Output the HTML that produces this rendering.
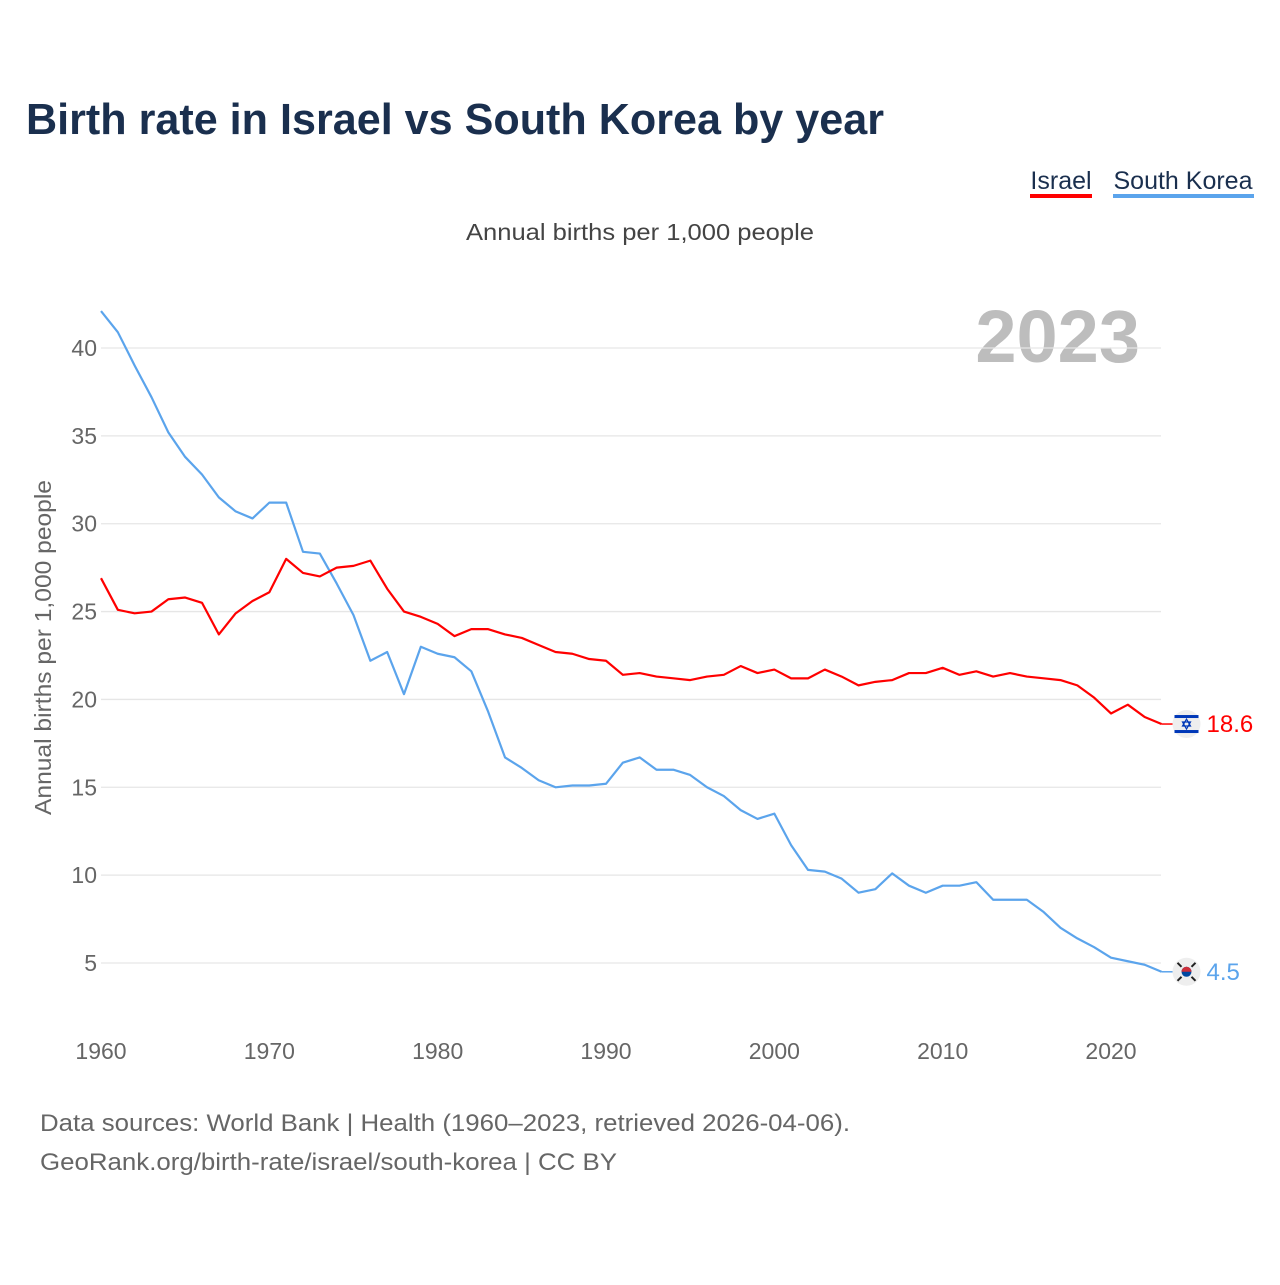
<!DOCTYPE html>
<html><head><meta charset="utf-8"><style>
body{margin:0;background:#fff;font-family:"Liberation Sans",sans-serif}
svg text{font-family:"Liberation Sans",sans-serif}
</style></head><body>
<svg width="1280" height="1280" viewBox="0 0 1280 1280">
<text x="26" y="134" font-size="44" font-weight="bold" fill="#1a2f4e" textLength="858" lengthAdjust="spacingAndGlyphs">Birth rate in Israel vs South Korea by year</text>
<g>
<g><text x="1061" y="189" font-size="25" fill="#1a2f4e" text-anchor="middle">Israel</text><rect x="1030" y="194" width="62" height="4" fill="#ff0000"/></g>
<g><text x="1183" y="189" font-size="25" fill="#1a2f4e" text-anchor="middle">South Korea</text><rect x="1113" y="194" width="141" height="4" fill="#5ba4ec"/></g>
</g>
<text x="466" y="240" font-size="23" fill="#444" textLength="348" lengthAdjust="spacingAndGlyphs">Annual births per 1,000 people</text>
<text x="1140" y="362" font-size="74" font-weight="bold" fill="#bdbdbd" text-anchor="end">2023</text>
<text transform="translate(51,815) rotate(-90)" font-size="23" fill="#666" textLength="335" lengthAdjust="spacingAndGlyphs">Annual births per 1,000 people</text>
<g id="grid"></g><g id="yt"></g><g id="xt"></g><g id="lines"></g><g id="ends"></g>
<text x="40" y="1131" font-size="24" fill="#666" textLength="810" lengthAdjust="spacingAndGlyphs">Data sources: World Bank | Health (1960–2023, retrieved 2026-04-06).</text>
<text x="40" y="1170" font-size="24" fill="#666" textLength="577" lengthAdjust="spacingAndGlyphs">GeoRank.org/birth-rate/israel/south-korea | CC BY</text>
</svg>
<script>
const years=[];for(let y=1960;y<=2023;y++)years.push(y);
const israel=[26.9,25.1,24.9,25.0,25.7,25.8,25.5,23.7,24.9,25.6,26.1,28.0,27.2,27.0,27.5,27.6,27.9,26.3,25.0,24.7,24.3,23.6,24.0,24.0,23.7,23.5,23.1,22.7,22.6,22.3,22.2,21.4,21.5,21.3,21.2,21.1,21.3,21.4,21.9,21.5,21.7,21.2,21.2,21.7,21.3,20.8,21.0,21.1,21.5,21.5,21.8,21.4,21.6,21.3,21.5,21.3,21.2,21.1,20.8,20.1,19.2,19.7,19.0,18.6];
const korea=[42.1,40.9,39.0,37.2,35.2,33.8,32.8,31.5,30.7,30.3,31.2,31.2,28.4,28.3,26.6,24.8,22.2,22.7,20.3,23.0,22.6,22.4,21.6,19.3,16.7,16.1,15.4,15.0,15.1,15.1,15.2,16.4,16.7,16.0,16.0,15.7,15.0,14.5,13.7,13.2,13.5,11.7,10.3,10.2,9.8,9.0,9.2,10.1,9.4,9.0,9.4,9.4,9.6,8.6,8.6,8.6,7.9,7.0,6.4,5.9,5.3,5.1,4.9,4.5];
const yTicks=[5,10,15,20,25,30,35,40];
const xTicks=[1960,1970,1980,1990,2000,2010,2020];
const NS="http://www.w3.org/2000/svg";
const X=v=>101+(v-1960)*(1111-101)/60;
const Y=v=>963-(v-5)*(963-348)/35;
function mk(t,a,p){const e=document.createElementNS(NS,t);for(const k in a)e.setAttribute(k,a[k]);p.appendChild(e);return e;}
const G=document.getElementById('grid'),YT=document.getElementById('yt'),XT=document.getElementById('xt'),L=document.getElementById('lines'),E=document.getElementById('ends');
yTicks.forEach(v=>{
 const l=mk('line',{x1:101,x2:1161,y1:Y(v),y2:Y(v),stroke:'#e6e6e6','stroke-width':1.3},G);
 
 
 const t=mk('text',{x:97,y:Y(v)+8,'font-size':23,fill:'#666','text-anchor':'end'},YT);t.textContent=v;
 
 
});
xTicks.forEach(v=>{
 const t=mk('text',{x:X(v),y:1059,'font-size':23,fill:'#666','text-anchor':'middle'},XT);t.textContent=v;
 
 
});
function line(data,color,name){
 const p=mk('polyline',{points:data.map((v,i)=>X(years[i])+','+Y(v)).join(' '),fill:'none',stroke:color,'stroke-width':2.2,'stroke-linejoin':'round'},L);
 
 
}
line(korea,'#5ba4ec','line-south-korea');
line(israel,'#ff0000','line-israel');
function endLabel(data,color,name,flag){
 const v=data[data.length-1],x=X(2023),y=Y(v);
 const g=mk('g',{},E);
 
 
 mk('line',{x1:x,x2:x+12,y1:y,y2:y,stroke:color,'stroke-width':1.5},g);
 mk('circle',{cx:x+25,cy:y,r:14,fill:'#eee'},g);
 if(flag==='il'){
  mk('rect',{x:x+13,y:y-9,width:24,height:3,fill:'#0038b8'},g);
  mk('rect',{x:x+13,y:y+6,width:24,height:3,fill:'#0038b8'},g);
  mk('path',{d:`M${x+25} ${y-5}l4 7h-8z M${x+25} ${y+5}l4 -7h-8z`,fill:'none',stroke:'#0038b8','stroke-width':1.2},g);
 } else {
  mk('circle',{cx:x+25,cy:y,r:5,fill:'#0047a0'},g);
  mk('path',{d:`M${x+20} ${y}a5 5 0 0 1 10 0z`,fill:'#cd2e3a'},g);
  mk('path',{d:`M${x+16} ${y-9}l4 4M${x+34} ${y-9}l-4 4M${x+16} ${y+9}l4 -4M${x+34} ${y+9}l-4 -4`,stroke:'#222','stroke-width':2},g);
 }
 const t=mk('text',{x:x+45,y:y+8,'font-size':24,fill:color},g);t.textContent=v;
}
endLabel(israel,'#ff0000','end-label-israel','il');
endLabel(korea,'#5ba4ec','end-label-south-korea','kr');
</script>
</body></html>
